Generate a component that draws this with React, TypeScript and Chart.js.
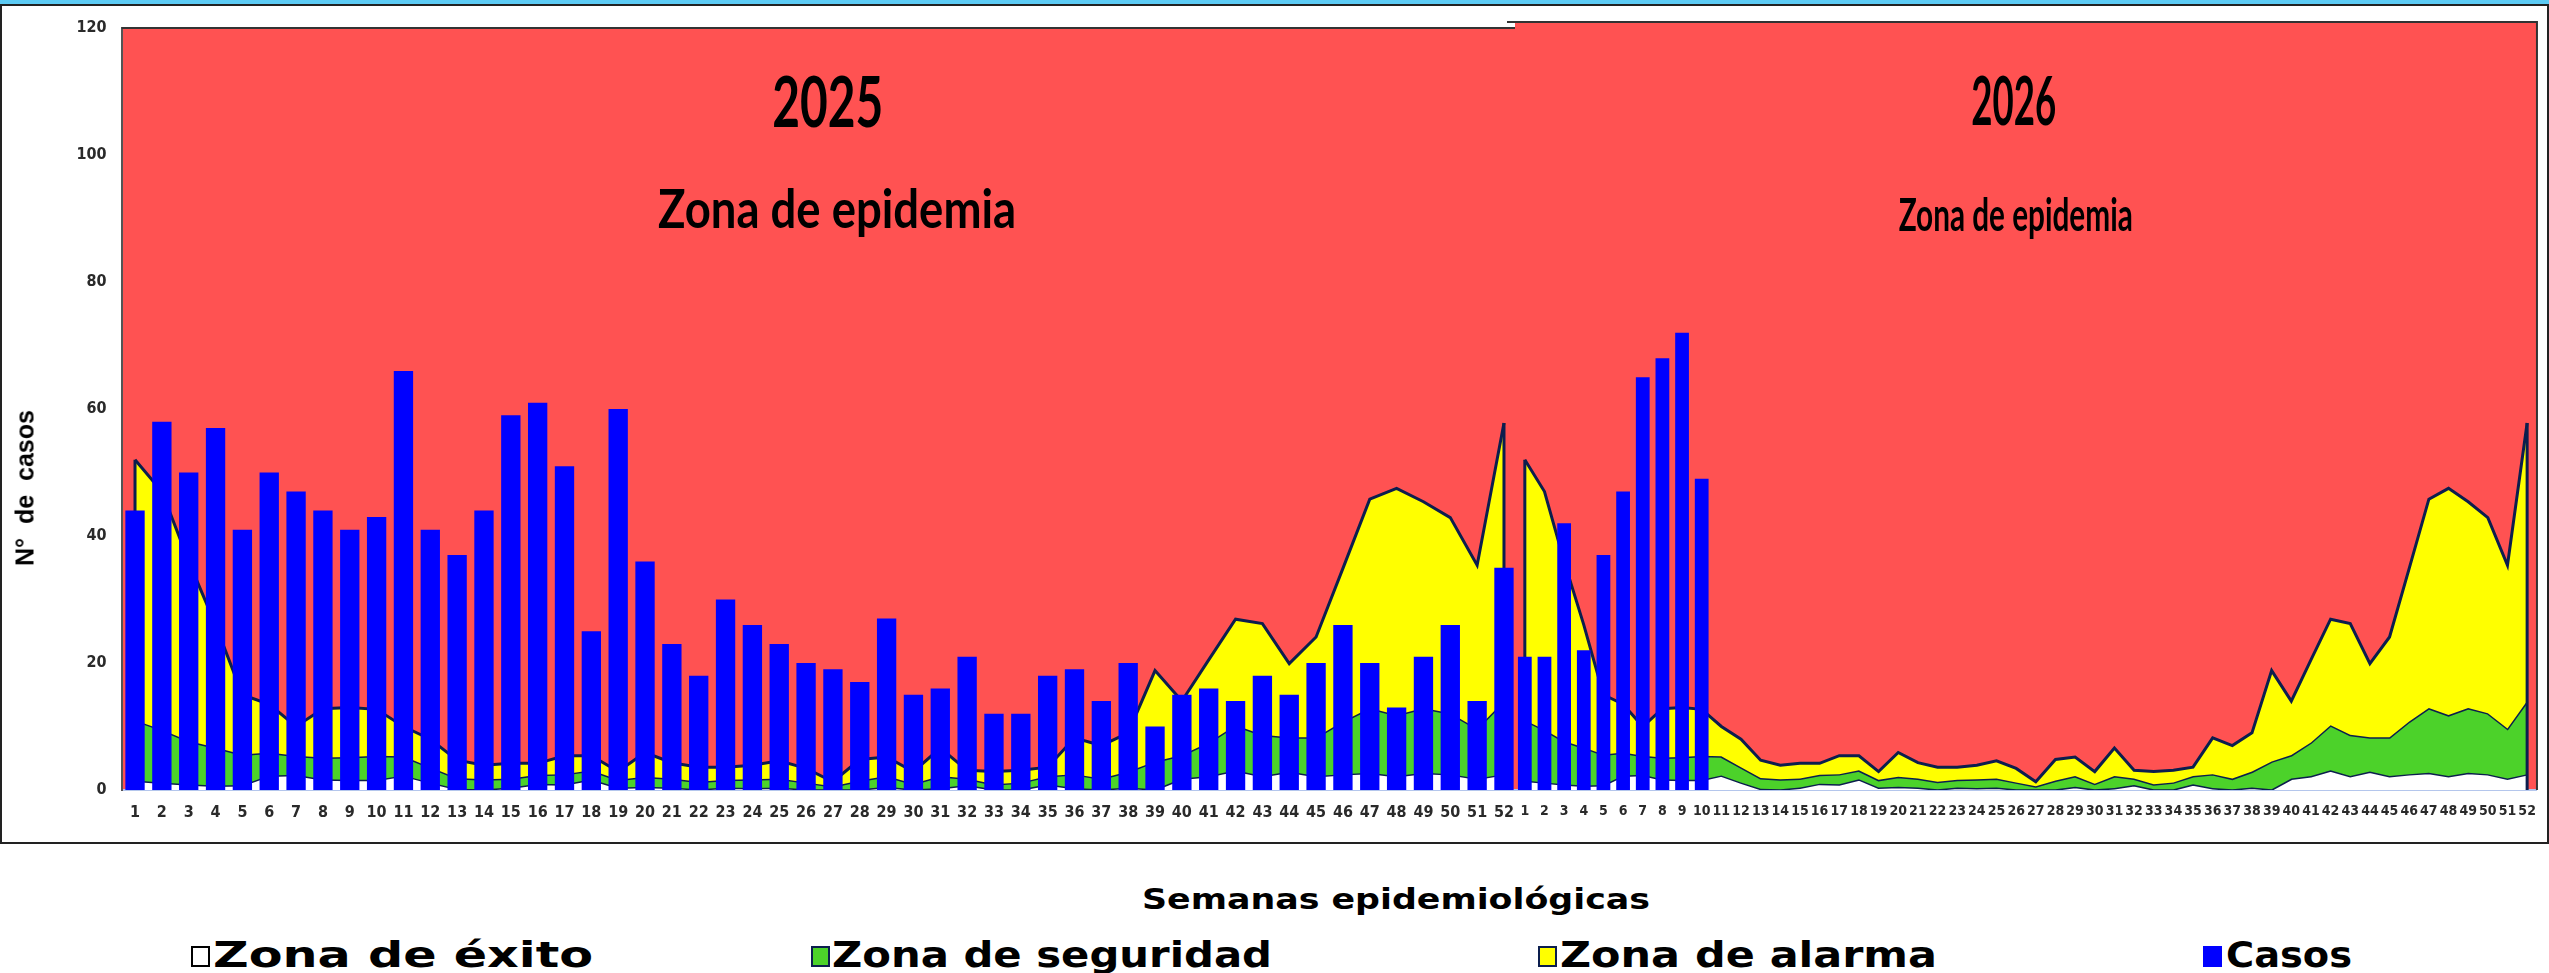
import React, { useEffect, useRef } from "react";
import { Chart, registerables } from "chart.js";

Chart.register(...registerables);

// ---------- DATA ----------
const WEEKS = [
  "1","2","3","4","5","6","7","8","9","10","11","12","13","14","15","16","17","18","19","20",
  "21","22","23","24","25","26","27","28","29","30","31","32","33","34","35","36","37","38","39","40",
  "41","42","43","44","45","46","47","48","49","50","51","52",
];

const YEARS = ["2025", "2026"];
const EPIDEMIC_LABEL = "Zona de epidemia";

const CASES_2025 = [
  44, 58, 50, 57, 41, 50, 47, 44, 41, 43,
  66, 41, 37, 44, 59, 61, 51, 25, 60, 36,
  23, 18, 30, 26, 23, 20, 19, 17, 27, 15,
  16, 21, 12, 12, 18, 19, 14, 20, 10, 15,
  16, 14, 18, 15, 20, 26, 20, 13, 21, 26,
  14, 35,
];

const CASES_2026 = [21, 21, 42, 22, 37, 47, 65, 68, 72, 49];

// upper limit of the success zone (white)
const ZONA_EXITO = [
  1.5, 1.2, 0.9, 0.7, 0.8, 2.3, 2.4, 1.7, 1.6, 1.6,
  2.3, 1.2, 0.2, 0.1, 0.4, 1.0, 0.9, 1.7, 0.4, 0.5,
  0.4, 0.1, 0.4, 0.3, 0.4, 0.1, 0.1, 0.1, 0.5, 0.1,
  0.3, 0.8, 0.1, 0.1, 0.9, 0.3, 0.1, 0.4, 0.1, 1.8,
  2.2, 3.1, 2.2, 2.9, 2.2, 2.5, 2.7, 2.2, 2.7, 2.5,
  1.8, 2.5,
];

// upper limit of the security zone (green)
const ZONA_SEGURIDAD = [
  11, 9.5, 7.7, 6.7, 5.6, 5.9, 5.4, 5.1, 5.2, 5.4,
  5.3, 3.6, 1.9, 1.7, 1.8, 2.4, 2.5, 3.1, 1.6, 2.1,
  1.8, 1.3, 1.6, 1.7, 1.8, 1.2, 0.6, 1.5, 2.2, 1.0,
  2.2, 1.8, 0.9, 1.2, 2.2, 2.5, 1.8, 2.9, 4.5, 5.5,
  7.5, 10.2, 8.7, 8.3, 8.3, 10.8, 12.9, 11.8, 12.9, 12.1,
  9.7, 14,
];

// upper limit of the alarm zone (yellow)
const ZONA_ALARMA = [
  52, 47, 36, 26, 15, 13.5, 10, 12.8, 13, 12.7,
  10, 8, 4.7, 3.9, 4.2, 4.2, 5.4, 5.4, 2.9, 5.9,
  4.3, 3.6, 3.6, 3.9, 4.6, 3.4, 1.3, 4.8, 5.2, 2.9,
  6.6, 3.1, 2.9, 3.1, 3.6, 8.2, 7, 9.0, 18.8, 14,
  20.5, 26.9, 26.2, 19.9, 24.1, 34.9, 45.8, 47.5, 45.4, 42.9,
  35.4, 57.8,
];

const Y_MIN = 0;
const Y_MAX = 120;
const Y_STEP = 20;

const LEGEND_LABELS = ["Zona de éxito", "Zona de seguridad", "Zona de alarma", "Casos"];
const X_TITLE = "Semanas epidemiológicas";
const Y_TITLE = "N°  de  casos";

// ---------- STYLE ----------
const RED = "#FF5252";
const GREEN = "#4CD22A";
const YELLOW = "#FFFF00";
const BLUE = "#0000FF";
const OUTLINE = "#0C1E4E";
const OUTLINE_W = 3;
const TICK_FONT = "'Liberation Sans Narrow', 'DejaVu Sans Condensed', 'Liberation Sans', sans-serif";

const zonePlugin: any = {
  id: "zone",
  beforeDraw(chart: any, _a: any, o: any) {
    const { ctx, chartArea: c } = chart;
    ctx.save();
    ctx.fillStyle = o.bg;
    ctx.fillRect(c.left, c.top - o.extraTop, c.right - c.left, c.bottom - c.top + o.extraTop);
    ctx.restore();
  },
  afterDatasetDraw(chart: any, args: any, o: any) {
    if (args.index !== o.edgeIndex) return;
    const pts = args.meta.data;
    if (!pts || !pts.length) return;
    const y0 = chart.scales.y.getPixelForValue(0);
    const ctx = chart.ctx;
    ctx.save();
    ctx.strokeStyle = OUTLINE;
    ctx.lineWidth = OUTLINE_W;
    for (const p of [pts[0], pts[pts.length - 1]]) {
      ctx.beginPath();
      ctx.moveTo(p.x, p.y);
      ctx.lineTo(p.x, y0);
      ctx.stroke();
    }
    ctx.restore();
  },
  afterDatasetsDraw(chart: any, _a: any, o: any) {
    const { ctx, chartArea: c } = chart;
    for (const t of o.texts) {
      ctx.save();
      ctx.font = `bold ${t.size}px Lato, 'Open Sans', sans-serif`;
      const w = ctx.measureText(t.text).width;
      const sx = t.width / w;
      ctx.translate(c.left + t.x * (c.right - c.left), c.top + t.baseline);
      ctx.scale(sx, 1);
      ctx.textAlign = "center";
      ctx.textBaseline = "alphabetic";
      ctx.fillStyle = "#000";
      ctx.fillText(t.text, 0, 0);
      ctx.restore();
    }
  },
  afterDraw(chart: any, _a: any, o: any) {
    const { ctx, chartArea: c } = chart;
    ctx.save();
    ctx.strokeStyle = "#333";
    ctx.lineWidth = 2;
    const top = c.top - o.extraTop;
    ctx.beginPath();
    ctx.moveTo(c.left - 8 * (o.extraTop ? 1 : 0), top);
    ctx.lineTo(c.right, top);
    if (o.rightBorder) ctx.lineTo(c.right, c.bottom);
    ctx.stroke();
    ctx.restore();
  },
};

function makeConfig(cases: number[], o: any) {
  const tickFont = { family: TICK_FONT, size: o.tickSize, weight: "bold" as const };
  const zone = (label: string, data: number[], fill: string, color: string, order: number) => ({
    type: "line", label, data, fill, backgroundColor: color, borderColor: OUTLINE,
    borderWidth: OUTLINE_W, pointRadius: 0, tension: 0, order,
  });
  return {
    type: "bar" as const,
    data: {
      labels: WEEKS,
      datasets: [
        zone(LEGEND_LABELS[0], ZONA_EXITO, "origin", "#FFFFFF", 4),
        zone(LEGEND_LABELS[1], ZONA_SEGURIDAD, "-1", GREEN, 3),
        zone(LEGEND_LABELS[2], ZONA_ALARMA, "-1", YELLOW, 2),
        {
          type: "bar", label: LEGEND_LABELS[3], data: cases, backgroundColor: BLUE,
          borderWidth: 0, barPercentage: 1, categoryPercentage: o.catPct, order: 1,
        },
      ],
    },
    options: {
      responsive: false,
      animation: false,
      devicePixelRatio: 1,
      layout: { padding: o.padding },
      plugins: {
        legend: { display: false },
        tooltip: { enabled: false },
        zone: {
          bg: RED, extraTop: o.extraTop, edgeIndex: 2, texts: o.texts, rightBorder: o.rightBorder,
        },
      },
      scales: {
        x: {
          type: "category",
          offset: true,
          z: 1,
          grid: { display: false, drawTicks: false },
          border: { display: true, color: "#B4C6EC", width: 2 },
          ticks: {
            autoSkip: false, maxRotation: 0, minRotation: 0, padding: 13,
            font: tickFont, color: "#2a2a2a",
          },
          afterFit: (s: any) => { s.height = 70; },
        },
        y: {
          display: o.showY,
          min: Y_MIN,
          max: Y_MAX,
          z: 1,
          grid: { display: false, drawTicks: false },
          border: { display: true, color: "#555", width: 2 },
          ticks: { stepSize: Y_STEP, padding: 15, font: tickFont, color: "#2a2a2a" },
          afterFit: (s: any) => { s.width = o.yWidth; },
        },
      },
    },
    plugins: [zonePlugin],
  };
}

export default function App() {
  const refA = useRef<HTMLCanvasElement>(null);
  const refB = useRef<HTMLCanvasElement>(null);
  const rootRef = useRef<HTMLDivElement>(null);

  useEffect(() => {
    const a = new Chart(refA.current as any, makeConfig(CASES_2025, {
      tickSize: 16, catPct: 0.72, padding: { left: 0, right: 12.6, top: 28, bottom: 0 },
      extraTop: 0, rightBorder: false, showY: true, yWidth: 121.6,
      texts: [
        { text: YEARS[0], size: 70, x: 0.506, baseline: 98.6, width: 111 },
        { text: EPIDEMIC_LABEL, size: 53, x: 0.5126, baseline: 200, width: 358 },
      ],
    }) as any);
    const b = new Chart(refB.current as any, makeConfig(CASES_2026, {
      tickSize: 14, catPct: 0.7, padding: { left: 15, right: 11, top: 28, bottom: 0 },
      extraTop: 6, rightBorder: true, showY: false, yWidth: 0,
      texts: [
        { text: YEARS[1], size: 66, x: 0.488, baseline: 97, width: 85 },
        { text: EPIDEMIC_LABEL, size: 46, x: 0.49, baseline: 203, width: 234 },
      ],
    }) as any);
    const els = rootRef.current?.querySelectorAll("[data-fitw]") || [];
    els.forEach((el: any) => {
      const target = parseFloat(el.getAttribute("data-fitw"));
      const w = el.getBoundingClientRect().width;
      if (w > 0) el.style.transform = `scaleX(${target / w})`;
    });
    return () => { a.destroy(); b.destroy(); };
  }, []);

  const legendBoxes = [
    { left: 191, fill: "#FFFFFF", stroke: "#000" },
    { left: 811, fill: GREEN, stroke: OUTLINE },
    { left: 1538, fill: YELLOW, stroke: OUTLINE },
    { left: 2203, fill: BLUE, stroke: BLUE },
  ];
  const legendText = [
    { left: 213, width: 380 },
    { left: 832, width: 440 },
    { left: 1560, width: 377 },
    { left: 2226, width: 126 },
  ];

  const textStyle: React.CSSProperties = {
    position: "absolute",
    display: "inline-block",
    whiteSpace: "nowrap",
    fontFamily: "'DejaVu Sans', sans-serif",
    fontWeight: "bold",
    color: "#000",
    transformOrigin: "left top",
    lineHeight: 1,
  };

  return (
    <div ref={rootRef} style={{ position: "absolute", left: 0, top: 0, width: 2549, height: 973, background: "#fff", overflow: "hidden" }}>
      <div style={{ position: "absolute", left: 0, top: 0, width: 2549, height: 4, background: "#5CCBF4" }} />
      <div style={{ position: "absolute", left: 0, top: 4, width: 2545, height: 836, border: "2px solid #222" }} />
      <canvas ref={refA} width={1530} height={860} style={{ position: "absolute", left: 0, top: 0 }} />
      <canvas ref={refB} width={1049} height={860} style={{ position: "absolute", left: 1500, top: 0 }} />
      <div style={{
        position: "absolute", left: 25, top: 488, transform: "translate(-50%, -50%) rotate(-90deg)",
        whiteSpace: "pre", fontFamily: "'Liberation Sans', Arial, sans-serif", fontWeight: "bold", fontSize: 25, color: "#000",
      }}>{Y_TITLE}</div>
      <span data-fitw="508" style={{ ...textStyle, left: 1142, top: 886, fontSize: 28 }}>{X_TITLE}</span>
      {legendBoxes.map((b, i) => (
        <div key={"b" + i} style={{
          position: "absolute", left: b.left, top: 946, width: 15, height: 17,
          background: b.fill, border: `2.5px solid ${b.stroke}`,
        }} />
      ))}
      {LEGEND_LABELS.map((t, i) => (
        <span key={"t" + i} data-fitw={legendText[i].width} style={{ ...textStyle, left: legendText[i].left, top: 937, fontSize: 36 }}>{t}</span>
      ))}
    </div>
  );
}
